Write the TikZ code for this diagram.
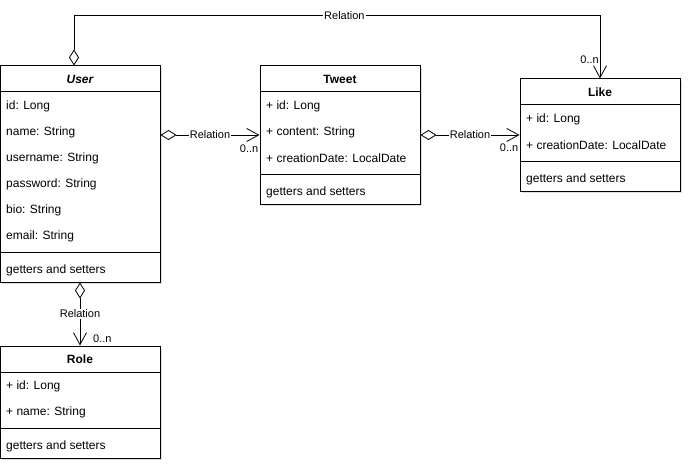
\documentclass[tikz,border=0pt]{standalone}
\usepackage{fontspec}
\setmainfont{Liberation Sans}
\usetikzlibrary{arrows.meta,positioning,shadows}
\tikzset{
  classbox/.style={draw, line width=1pt, fill=white, minimum width=160pt, inner sep=0pt,
    drop shadow={shadow xshift=2pt, shadow yshift=-2pt, opacity=0.25}},
  classname/.style={inner sep=0pt, font=\bfseries\fontsize{12}{14}\selectfont},
  attr/.style={anchor=west, inner sep=0pt, font=\fontsize{12}{14}\selectfont},
  rel/.style={fill=white, inner sep=1pt, font=\fontsize{11}{13}\selectfont},
  mult/.style={inner sep=1pt, font=\fontsize{11}{13}\selectfont},
  aggr/.style={draw, line width=0.8pt,
    {Diamond[open,length=16pt,width=10pt]}-{Straight Barb[length=12pt,width=13pt]}},
}

\begin{document}
\begin{tikzpicture}[x=1pt, y=-1pt]
\useasboundingbox (0,0) rectangle (692,473);

% class boxes
\node[classbox, minimum height=216pt] (user) at (80,174) {};
\node[classbox, minimum height=138pt] (tweet) at (340,135) {};
\node[classbox, minimum height=112pt] (like) at (600,135) {};
\node[classbox, minimum height=112pt] (role) at (80,402) {};

% separators
\draw[line width=1pt] (0,92) -- (160,92) (0,252) -- (160,252);
\draw[line width=1pt] (260,92) -- (420,92) (260,174) -- (420,174);
\draw[line width=1pt] (520,105) -- (680,105) (520,161) -- (680,161);
\draw[line width=1pt] (0,372) -- (160,372) (0,428) -- (160,428);

% User
\node[classname] (user-name) at (80,79.5) {\itshape User};
\foreach \a [count=\i] in {id: Long, name: String, username: String, password: String, bio: String, email: String}
  \node[attr] (user-a\i) at (6,80+26*\i) {\a};
\node[attr] (user-m) at (6,270) {getters and setters};

% Tweet
\node[classname] (tweet-name) at (340,79.5) {Tweet};
\foreach \a [count=\i] in {+ id: Long, + content: String, + creationDate: LocalDate}
  \node[attr] (tweet-a\i) at (266,80+26*\i) {\a};
\node[attr] (tweet-m) at (266,192) {getters and setters};

% Like
\node[classname] (like-name) at (600,92.5) {Like};
\foreach \a [count=\i] in {+ id: Long, + creationDate: LocalDate}
  \node[attr] (like-a\i) at (526,93+26*\i) {\a};
\node[attr] (like-m) at (526,179) {getters and setters};

% Role
\node[classname] (role-name) at (80,359.5) {Role};
\foreach \a [count=\i] in {+ id: Long, + name: String}
  \node[attr] (role-a\i) at (6,360+26*\i) {\a};
\node[attr] (role-m) at (6,446) {getters and setters};

% relations
\draw[aggr] (user.east |- tweet.west) -- node[rel] (r-ut) {Relation} (tweet.west);
\draw[aggr] (tweet.east) -- node[rel] (r-tl) {Relation} (like.west);
\draw[aggr] (user.south) -- node[rel] (r-ur) {Relation} (role.north);
\draw[aggr] ([xshift=-6pt]user.north) -- ++(0,-50) -| node[rel, pos=0.257] (r-ul) {Relation} (like.north);

% multiplicities
\node[mult, anchor=east] (m-ut) at ([yshift=-14pt]tweet.west) {0..n};
\node[mult, anchor=east] (m-tl) at ([yshift=-13pt]like.west) {0..n};
\node[mult, anchor=west] (m-ur) at ([xshift=12pt,yshift=7pt]role.north) {0..n};
\node[mult, anchor=east] (m-ul) at ([yshift=19pt]like.north) {0..n};
\end{tikzpicture}
\end{document}
